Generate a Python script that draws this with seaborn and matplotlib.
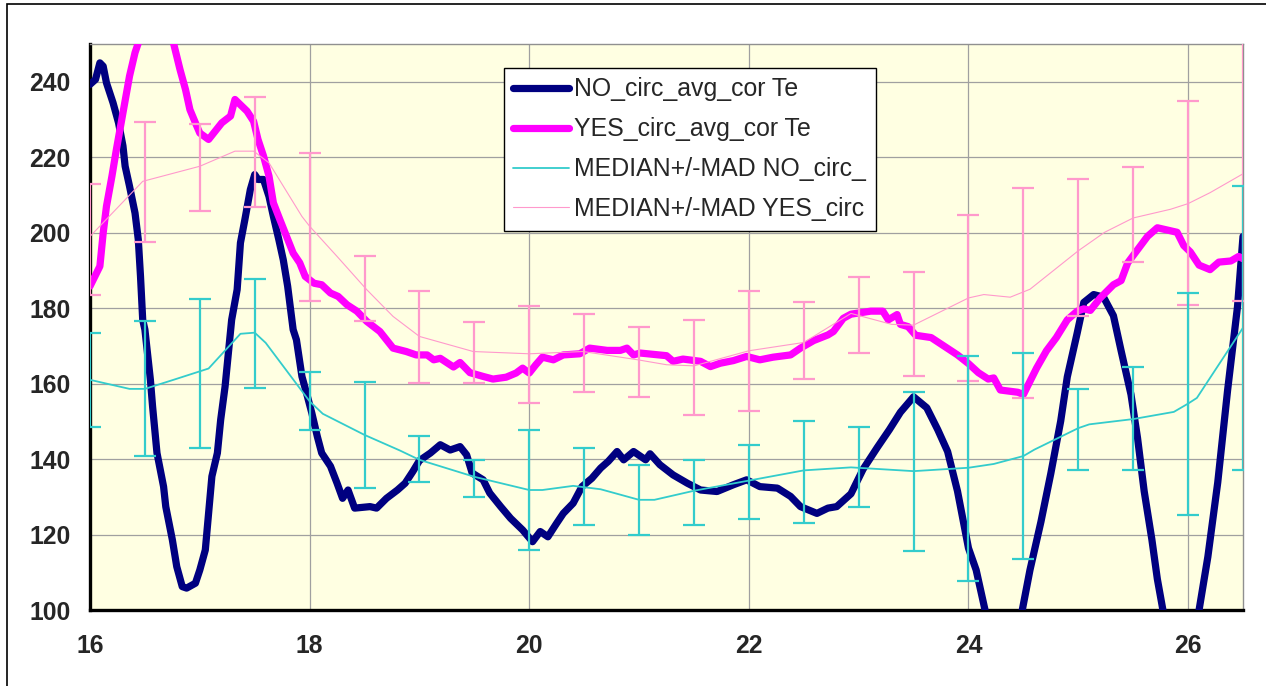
import matplotlib
matplotlib.use('Agg')
import matplotlib.pyplot as plt
from matplotlib.patches import Rectangle
import numpy as np
import seaborn as sns

# thick curves
no_x = [16.00, 16.05, 16.09, 16.12, 16.15, 16.21, 16.26, 16.30, 16.32, 16.36, 16.41, 16.44, 16.46, 16.48,
        16.50, 16.55, 16.57, 16.61, 16.67, 16.69, 16.75, 16.79, 16.84, 16.88, 16.96, 17.00, 17.05, 17.08,
        17.11, 17.16, 17.19, 17.23, 17.26, 17.29, 17.34, 17.37, 17.41, 17.46, 17.50, 17.53, 17.58, 17.63,
        17.67, 17.72, 17.76, 17.80, 17.85, 17.88, 17.93, 17.98, 18.02, 18.07, 18.11, 18.19, 18.25, 18.30,
        18.35, 18.41, 18.55, 18.61, 18.70, 18.80, 18.87, 18.94, 19.00, 19.10, 19.19, 19.28, 19.37, 19.43,
        19.48, 19.58, 19.64, 19.74, 19.83, 19.94, 20.03, 20.10, 20.17, 20.25, 20.31, 20.40, 20.48, 20.57,
        20.65, 20.72, 20.80, 20.86, 20.95, 21.06, 21.10, 21.19, 21.31, 21.44, 21.56, 21.71, 21.86, 21.98,
        22.10, 22.26, 22.38, 22.47, 22.62, 22.72, 22.80, 22.93, 23.04, 23.17, 23.28, 23.38, 23.50, 23.62,
        23.72, 23.81, 23.90, 24.00, 24.07, 24.15, 24.25, 24.32, 24.40, 24.49, 24.56, 24.66, 24.75, 24.84,
        24.90, 24.99, 25.05, 25.14, 25.23, 25.32, 25.39, 25.48, 25.54, 25.60, 25.67, 25.72, 25.77, 25.85,
        25.93, 26.02, 26.10, 26.18, 26.27, 26.36, 26.45, 26.50]
no_y = [239.3, 240.6, 245.0, 244.1, 239.7, 234.4, 229.1, 223.0, 217.6, 212.3, 205.2, 198.1, 188.4, 176.9,
        174.3, 161.0, 153.9, 141.6, 132.7, 127.4, 118.6, 111.5, 106.2, 105.8, 107.1, 110.6, 115.9, 125.6,
        135.4, 141.6, 150.4, 159.2, 168.1, 176.9, 184.9, 197.3, 203.4, 211.4, 215.4, 214.1, 214.1, 209.6,
        204.3, 198.1, 192.8, 185.8, 174.3, 171.6, 161.9, 156.6, 152.2, 146.0, 141.6, 138.1, 133.6, 129.6,
        131.8, 127.0, 127.4, 127.0, 129.6, 131.8, 133.6, 136.7, 139.6, 141.6, 143.8, 142.4, 143.3, 141.1,
        136.3, 134.5, 131.0, 127.4, 124.3, 121.2, 118.1, 120.8, 119.4, 123.0, 125.6, 128.3, 132.7, 134.9,
        137.6, 139.4, 142.0, 139.8, 142.0, 139.8, 141.4, 138.5, 135.8, 133.6, 131.8, 131.4, 133.2, 134.5,
        132.7, 132.3, 130.1, 127.4, 125.6, 127.0, 127.4, 130.8, 137.3, 143.1, 147.8, 152.4, 156.5, 153.6,
        147.8, 142.0, 131.5, 116.4, 110.6, 100.1, 88.0, 84.0, 88.0, 100.0, 110.6, 123.4, 136.2, 150.1,
        161.8, 173.4, 181.5, 183.6, 182.9, 178.0, 168.7, 157.1, 145.5, 131.5, 118.7, 108.2, 100.1, 88.0,
        85.0, 88.0, 100.0, 114.1, 133.8, 158.3, 180.4, 199.0]

yes_x = [16.00, 16.09, 16.12, 16.15, 16.20, 16.24, 16.30, 16.36, 16.41, 16.44, 16.52, 16.60, 16.68, 16.76,
         16.82, 16.87, 16.91, 16.96, 17.00, 17.08, 17.14, 17.20, 17.28, 17.32, 17.37, 17.43, 17.49, 17.53,
         17.58, 17.63, 17.67, 17.73, 17.79, 17.85, 17.91, 17.96, 18.04, 18.11, 18.19, 18.26, 18.34, 18.43,
         18.52, 18.64, 18.76, 18.88, 18.97, 19.07, 19.13, 19.19, 19.31, 19.37, 19.46, 19.58, 19.67, 19.79,
         19.88, 19.94, 20.00, 20.06, 20.12, 20.22, 20.31, 20.46, 20.55, 20.71, 20.83, 20.89, 20.95, 21.01,
         21.25, 21.31, 21.40, 21.56, 21.65, 21.74, 21.86, 21.98, 22.10, 22.22, 22.38, 22.47, 22.59, 22.72,
         22.77, 22.86, 22.93, 23.11, 23.22, 23.27, 23.35, 23.38, 23.45, 23.52, 23.66, 23.78, 23.90, 24.00,
         24.09, 24.18, 24.23, 24.29, 24.45, 24.50, 24.56, 24.62, 24.71, 24.80, 24.90, 24.99, 25.05, 25.11,
         25.20, 25.32, 25.39, 25.45, 25.54, 25.63, 25.72, 25.81, 25.90, 25.96, 26.02, 26.10, 26.20, 26.28,
         26.39, 26.46, 26.50]
yes_y = [185.8, 191.1, 199.9, 207.0, 215.0, 222.0, 231.7, 241.5, 247.7, 250.3, 258.0, 261.0, 258.0, 250.3,
         243.2, 237.9, 232.6, 229.1, 226.4, 224.7, 226.9, 229.1, 230.9, 235.3, 233.9, 232.2, 229.5, 224.7,
         220.3, 215.0, 207.9, 203.4, 199.0, 194.6, 192.0, 188.4, 186.6, 186.2, 184.0, 183.1, 180.9, 179.2,
         176.5, 173.8, 169.4, 168.5, 167.6, 167.6, 166.3, 166.7, 164.4, 165.6, 162.9, 161.9, 161.2, 161.7,
         162.8, 164.1, 162.8, 165.0, 167.0, 166.3, 167.6, 167.9, 169.4, 168.8, 168.8, 169.4, 167.6, 168.1,
         167.4, 165.9, 166.5, 165.9, 164.5, 165.4, 166.1, 167.2, 166.3, 167.0, 167.6, 169.4, 171.4, 172.9,
         173.8, 177.3, 178.4, 179.2, 179.2, 176.9, 178.3, 175.7, 175.1, 172.8, 172.2, 169.9, 167.6, 165.3,
         162.9, 161.2, 161.5, 158.3, 157.7, 157.1, 160.6, 164.1, 168.7, 172.2, 176.9, 179.2, 179.8, 179.4,
         182.7, 186.2, 187.3, 192.0, 195.5, 199.0, 201.3, 200.7, 200.1, 196.6, 194.9, 191.4, 190.2, 192.2,
         192.5, 193.7, 193.1]

# median lines
med_no_x = [16.0, 16.36, 16.5, 16.76, 17.08, 17.37, 17.5, 17.6, 18.0, 18.12, 18.5, 18.82, 19.0, 19.5,
            20.0, 20.12, 20.4, 20.65, 21.0, 21.14, 21.5, 22.0, 22.5, 22.93, 23.5, 24.0, 24.23, 24.5,
            24.6, 25.0, 25.1, 25.5, 25.87, 26.0, 26.08, 26.5]
med_no_y = [161.0, 158.6, 158.6, 161.0, 164.0, 173.2, 173.5, 170.8, 155.3, 152.0, 146.4, 142.3, 139.8, 135.3,
            131.8, 131.8, 132.9, 132.0, 129.2, 129.2, 131.6, 134.3, 137.0, 137.8, 136.8, 137.7, 138.7, 140.8,
            142.5, 148.2, 149.2, 150.6, 152.5, 154.7, 156.2, 174.8]
med_yes_x = [16.0, 16.48, 17.0, 17.32, 17.49, 17.63, 17.93, 18.0, 18.25, 18.52, 18.76, 19.0, 19.49, 20.0,
             20.49, 20.99, 21.25, 21.5, 22.0, 22.5, 22.93, 23.3, 23.5, 24.0, 24.14, 24.38, 24.56, 25.0,
             25.24, 25.5, 25.84, 26.0, 26.2, 26.5]
med_yes_y = [199.0, 213.6, 217.6, 221.6, 221.6, 218.5, 204.3, 201.7, 193.7, 184.9, 177.8, 172.5, 168.5, 167.9,
             168.5, 166.3, 165.0, 164.7, 168.7, 170.9, 178.6, 175.7, 175.5, 182.7, 183.6, 182.9, 185.0, 195.2,
             200.1, 203.9, 206.2, 207.7, 210.6, 215.6]

# MAD error bars, every half unit
bar_x = [16.0, 16.5, 17.0, 17.5, 18.0, 18.5, 19.0, 19.5, 20.0, 20.5, 21.0,
         21.5, 22.0, 22.5, 23.0, 23.5, 24.0, 24.5, 25.0, 25.5, 26.0, 26.5]
no_hi = [173.4, 176.5, 182.5, 187.7, 163.0, 160.5, 146.2, 139.8, 147.6, 142.9, 138.5,
         139.8, 143.6, 150.1, 148.4, 157.7, 167.4, 168.0, 158.6, 164.3, 184.1, 212.4]
no_lo = [148.6, 140.9, 143.0, 158.8, 147.7, 132.2, 133.8, 130.0, 115.9, 122.4, 119.9,
         122.4, 124.1, 123.0, 127.4, 115.6, 107.8, 113.5, 137.1, 137.1, 125.1, 137.1]
yes_hi = [213.0, 229.4, 228.8, 236.0, 221.1, 193.9, 184.6, 176.4, 180.6, 178.5, 174.9,
          176.9, 184.6, 181.5, 188.2, 189.6, 204.6, 211.8, 214.3, 217.5, 235.0, 250.5]
yes_lo = [183.6, 197.5, 205.7, 206.8, 182.0, 176.5, 160.1, 160.1, 154.8, 157.9, 156.4,
          151.7, 152.8, 161.2, 168.0, 162.0, 160.8, 156.2, 178.0, 192.2, 180.7, 181.8]

x_ticks = [16, 18, 20, 22, 24, 26]
y_ticks = [100, 120, 140, 160, 180, 200, 220, 240]

NAVY = '#000080'; MAGENTA = '#FF00FF'; TEAL = '#33CCCC'; PINK = '#FF99CC'

sns.set_style("white")
plt.rcParams['font.family'] = ['Liberation Sans', 'DejaVu Sans']

fig = plt.figure(figsize=(12.66, 6.86), dpi=100)
ax = fig.add_axes([90/1266, 76/686, 1153/1266, 566/686])
ax.set_facecolor('#FFFFE2')

sns.lineplot(x=no_x, y=no_y, ax=ax, color=NAVY, lw=5.2, sort=False, estimator=None,
             label='NO_circ_avg_cor Te', zorder=3)
sns.lineplot(x=yes_x, y=yes_y, ax=ax, color=MAGENTA, lw=5.2, sort=False, estimator=None,
             label='YES_circ_avg_cor Te', zorder=3)
sns.lineplot(x=med_no_x, y=med_no_y, ax=ax, color=TEAL, lw=1.3, sort=False, estimator=None,
             label='MEDIAN+/-MAD NO_circ_', zorder=4)
sns.lineplot(x=med_yes_x, y=med_yes_y, ax=ax, color=PINK, lw=0.8, sort=False, estimator=None,
             label='MEDIAN+/-MAD YES_circ', zorder=4)

bx = np.array(bar_x)
for hi, lo, c in [(yes_hi, yes_lo, PINK), (no_hi, no_lo, TEAL)]:
    hi = np.array(hi); lo = np.array(lo)
    ax.errorbar(bx, (hi + lo) / 2, yerr=(hi - lo) / 2, fmt='none', ecolor=c,
                elinewidth=1.6, capsize=8, capthick=1.6, zorder=5)

ax.set_xlim(16, 26.5)
ax.set_ylim(100, 250)
ax.set_xticks(x_ticks)
ax.set_yticks(y_ticks)
ax.set_xlabel(''); ax.set_ylabel('')
ax.grid(True, color='#A0A0A0', lw=0.9)
ax.set_axisbelow(True)

for s in ['left', 'bottom']:
    ax.spines[s].set_color('black'); ax.spines[s].set_linewidth(2.4)
for s in ['top', 'right']:
    ax.spines[s].set_color('#909090'); ax.spines[s].set_linewidth(1.0)
ax.tick_params(axis='both', direction='inout', length=14, width=2.4, color='black', labelsize=17.8)
ax.tick_params(axis='y', pad=7)
ax.tick_params(axis='x', pad=10)
for lbl in ax.get_xticklabels() + ax.get_yticklabels():
    lbl.set_fontweight('bold')

leg = ax.legend(loc='upper left', bbox_to_anchor=((504 - 90) / 1153, (610 - 68) / 566),
                borderaxespad=0, fontsize=17.9, frameon=True, fancybox=False, framealpha=1,
                edgecolor='black', handlelength=2.25, handletextpad=0.2, labelspacing=0.64,
                borderpad=0.38)
leg.get_frame().set_linewidth(1.0)

# outer chart border
fig.add_artist(Rectangle((7/1266, -0.1), 1.2, 1 - 4/686 + 0.1, transform=fig.transFigure,
                         fill=False, ec='black', lw=1.2))

fig.savefig('out.png', dpi=100)
